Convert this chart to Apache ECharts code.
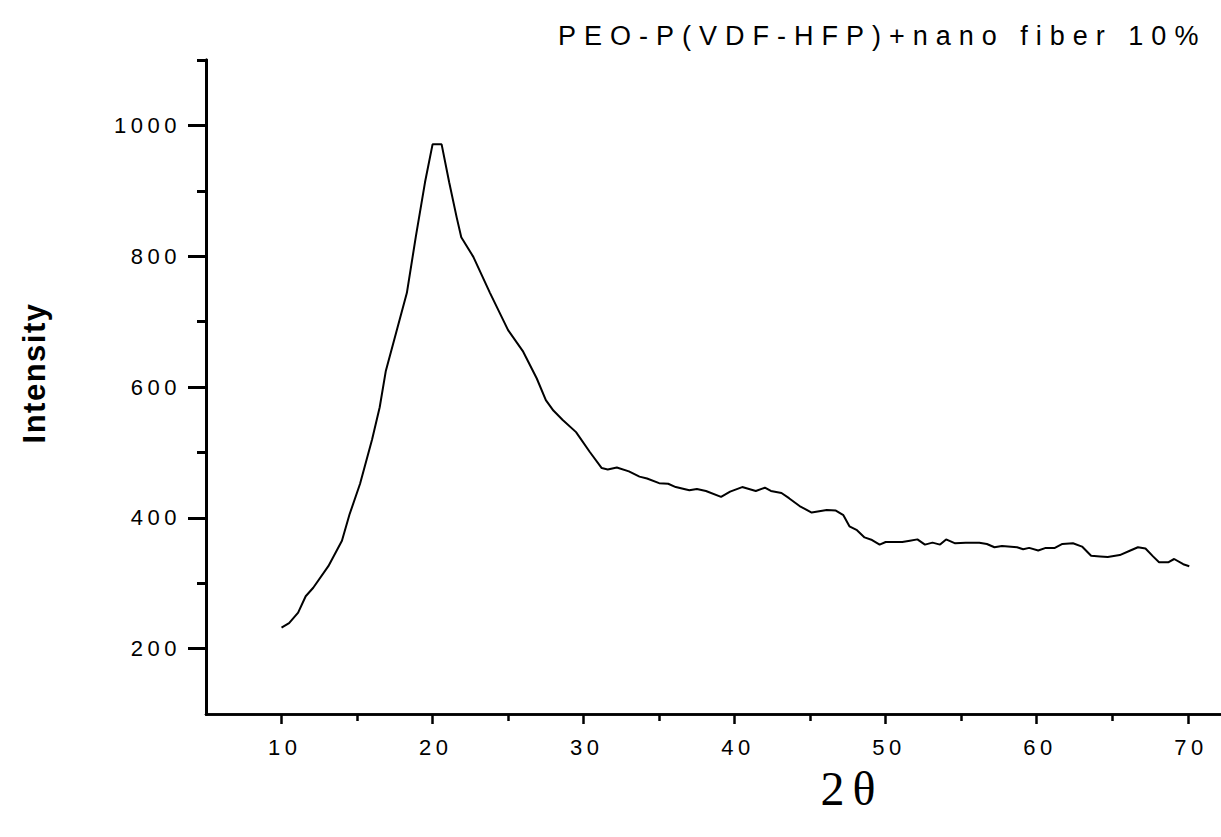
<!DOCTYPE html>
<html><head><meta charset="utf-8">
<script src="https://cdn.jsdelivr.net/npm/echarts@6/dist/echarts.min.js"></script>
<style>html,body{margin:0;padding:0;background:#fff}#c{width:1221px;height:837px}</style>
</head><body><div id="c"></div>
<script>
const titleText = 'PEO-P(VDF-HFP)+nano fiber 10%';
const xName = '2θ';
const yName = 'Intensity';
const xMajorTicks = [10, 20, 30, 40, 50, 60, 70];
const xMinorTicks = [15, 25, 35, 45, 55, 65];
const yMajorTicks = [200, 400, 600, 800, 1000];
const yMinorTicks = [300, 500, 700, 900, 1100];
const twoTheta = [10,10.5,11.1,11.6,12.1,13.1,14.0,14.5,15.2,16.0,16.5,16.9,17.6,18.3,18.9,19.5,20.0,20.6,21.1,21.6,21.9,22.7,23.8,25.0,26.0,26.9,27.5,28.0,28.6,29.5,30.4,31.2,31.6,32.2,33.0,33.7,34.2,35.0,35.6,36.1,37.0,37.5,38.1,39.1,39.7,40.5,41.4,42.0,42.4,43.1,43.6,44.3,45.1,46.1,46.7,47.2,47.6,48.1,48.6,49.1,49.6,50.0,51.1,51.6,52.1,52.6,53.1,53.6,54.0,54.6,55.3,56.2,56.7,57.2,57.7,58.7,59.1,59.5,60.1,60.6,61.2,61.7,62.4,63.0,63.6,64.2,64.7,65.5,66.2,66.7,67.2,67.7,68.1,68.7,69.1,69.7,70.1];
const intensity = [232,239,255,280,293,326,365,405,452,520,569,624,684,744,831,913,971,971,913,859,829,799,744,687,654,613,580,564,550,531,501,476,474,477,471,463,460,453,452,447,442,444,441,432,440,447,441,446,441,438,430,418,408,412,411,404,387,381,370,366,359,363,363,365,367,359,362,359,367,361,362,362,360,355,357,355,352,354,350,354,354,360,361,356,342,341,340,343,350,355,353,341,332,332,337,329,326];

const chart = echarts.init(document.getElementById('c'), null, {renderer: 'svg'});
const FONT = '"Liberation Sans", Arial, sans-serif';
const LABEL_LS = 4.5;
const axisX = (extra) => Object.assign({
  type: 'value', min: 5, max: 72.2, position: 'bottom', offset: 0,
  splitLine: {show: false},
  axisLine: {show: true, onZero: false, lineStyle: {color: '#000', width: 2.5}},
}, extra);
const axisY = (extra) => Object.assign({
  type: 'value', min: 100, max: 1100, position: 'left', offset: 0,
  splitLine: {show: false},
  axisLine: {show: true, onZero: false, lineStyle: {color: '#000', width: 3}},
}, extra);

chart.setOption({
  animation: false,
  backgroundColor: '#fff',
  title: {text: titleText, left: 553, top: 17, textStyle: {fontFamily: FONT, fontSize: 27, fontWeight: 'normal', color: '#000'}},
  grid: {left: 206, top: 60, width: 1015, height: 654, containLabel: false},
  xAxis: [
    axisX({
      axisTick: {show: true, customValues: xMajorTicks, length: 10, lineStyle: {color: '#000', width: 2.5}},
      axisLabel: {show: true, customValues: xMajorTicks, margin: 22, padding: [0, 0, 0, LABEL_LS + 2], fontFamily: FONT, fontSize: 22, color: '#000', formatter: v => String(v)}
    }),
    axisX({
      axisTick: {show: true, customValues: xMinorTicks, length: 7, lineStyle: {color: '#000', width: 2.5}},
      axisLabel: {show: false}
    })
  ],
  yAxis: [
    axisY({
      axisTick: {show: true, customValues: yMajorTicks, length: 18, lineStyle: {color: '#000', width: 3}},
      axisLabel: {show: true, customValues: yMajorTicks, margin: 25, fontFamily: FONT, fontSize: 22, color: '#000', formatter: v => String(v)}
    }),
    axisY({
      axisTick: {show: true, customValues: yMinorTicks, length: 9, lineStyle: {color: '#000', width: 3}},
      axisLabel: {show: false}
    })
  ],
  graphic: [
    {type: 'text', x: 34, y: 373, rotation: Math.PI / 2,
     style: {text: yName, font: 'bold 31px ' + FONT, fill: '#000', textAlign: 'center', textVerticalAlign: 'middle'}},
    {type: 'text', x: 852, y: 788,
     style: {text: xName, font: '48px "Liberation Serif", serif', fill: '#000', textAlign: 'center', textVerticalAlign: 'middle'}}
  ],
  series: [{
    type: 'line', xAxisIndex: 0, yAxisIndex: 0,
    data: twoTheta.map((x, i) => [x, intensity[i]]),
    showSymbol: false, symbol: 'none', smooth: false,
    lineStyle: {color: '#000', width: 2}
  }]
});

function applySpacing() {
  document.querySelectorAll('#c text').forEach(t => {
    const s = t.textContent;
    let ls = LABEL_LS;
    if (s === titleText) ls = 8;
    else if (s === yName) ls = 1.5;
    else if (s === xName) ls = 8;
    t.style.letterSpacing = ls + 'px';
  });
}
chart.on('finished', applySpacing);
applySpacing();
setTimeout(applySpacing, 0);
</script></body></html>
